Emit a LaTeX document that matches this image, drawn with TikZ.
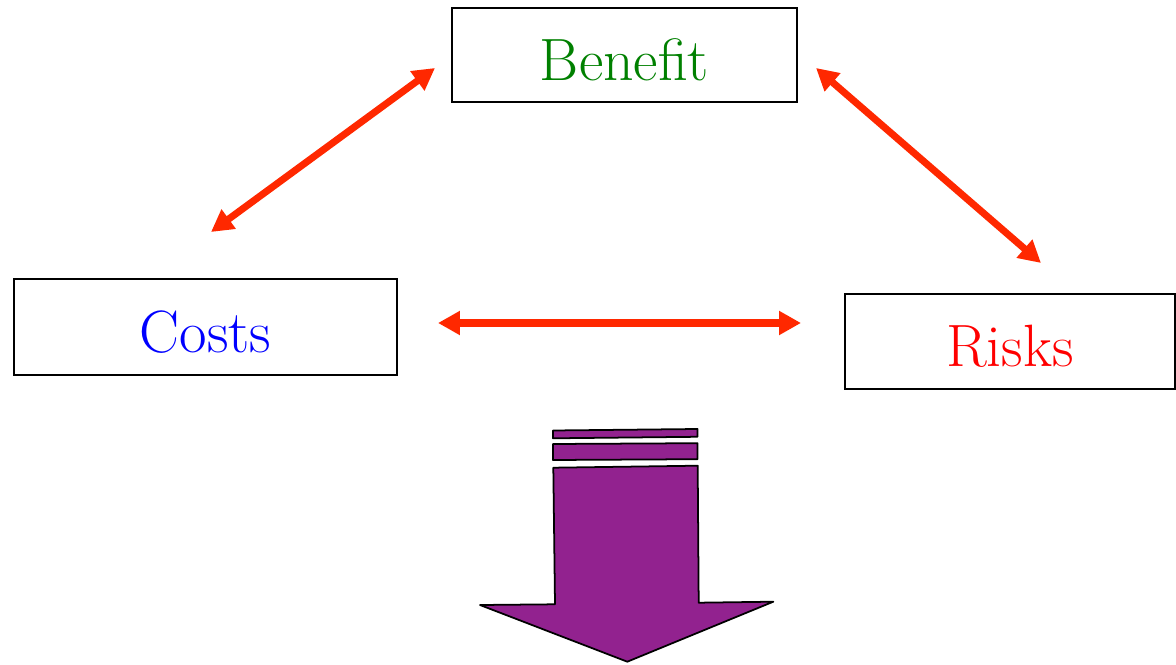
\documentclass[tikz,border=0pt]{standalone}
\usepackage{tikz}
\usetikzlibrary{arrows.meta}
\usetikzlibrary{positioning}
\definecolor{linkred}{RGB}{255,40,0}
\definecolor{arrowpurple}{RGB}{146,34,143}
\definecolor{benefitgreen}{RGB}{0,128,0}
\tikzset{
  factor/.style={draw, line width=1.2pt, inner sep=0pt, text height=29pt, text depth=0pt, font=\fontsize{34}{40}\selectfont},
  link/.style={linkred, line width=4pt, {Triangle[length=12.5pt,width=13pt]}-{Triangle[length=12.5pt,width=13pt]}},
  bigarrow/.style={draw=black, line width=1pt, fill=arrowpurple, line join=round}
}

\begin{document}
\begin{tikzpicture}[x=0.02cm, y=-0.02cm]
      \useasboundingbox (0, 0) rectangle (1176, 665);

      \node[factor, minimum width=6.9cm, minimum height=1.88cm, text=benefitgreen] (benefit) at (624.5, 55) {Benefit};
      \node[factor, minimum width=7.66cm, minimum height=1.92cm, text=blue] (costs) at (205.5, 327) {Costs};
      \node[factor, minimum width=6.6cm, minimum height=1.9cm, text=red] (risks) at (1010, 341.5) {Risks};

      % free ends of the links
      \coordinate (benefitleft) at (435, 68);
      \coordinate (costsup) at (211, 232);
      \coordinate (benefitright) at (816, 68);
      \coordinate (risksup) at (1041, 263);
      \coordinate (costsright) at (438, 323);
      \coordinate (risksleft) at (801, 323);

      \draw[link] (benefitleft) -- (costsup);
      \draw[link] (benefitright) -- (risksup);
      \draw[link] (costsright) -- (risksleft);

      \foreach \top/\bot/\tilt in {430.5/438.3/1.5, 444/460/0.8}{
        \draw[bigarrow] (553, \top) -- (697.5, \top-\tilt) -- (697.5, \bot-\tilt) -- (553, \bot) -- cycle;
      }
      \draw[bigarrow] (553.3, 467.7) -- (697.7, 465.7) -- (698.7, 602.7) -- (773.3, 601.7)
        -- (627.3, 661.7) -- (480, 605) -- (555, 604.3) -- cycle;
    \end{tikzpicture}
\end{document}
